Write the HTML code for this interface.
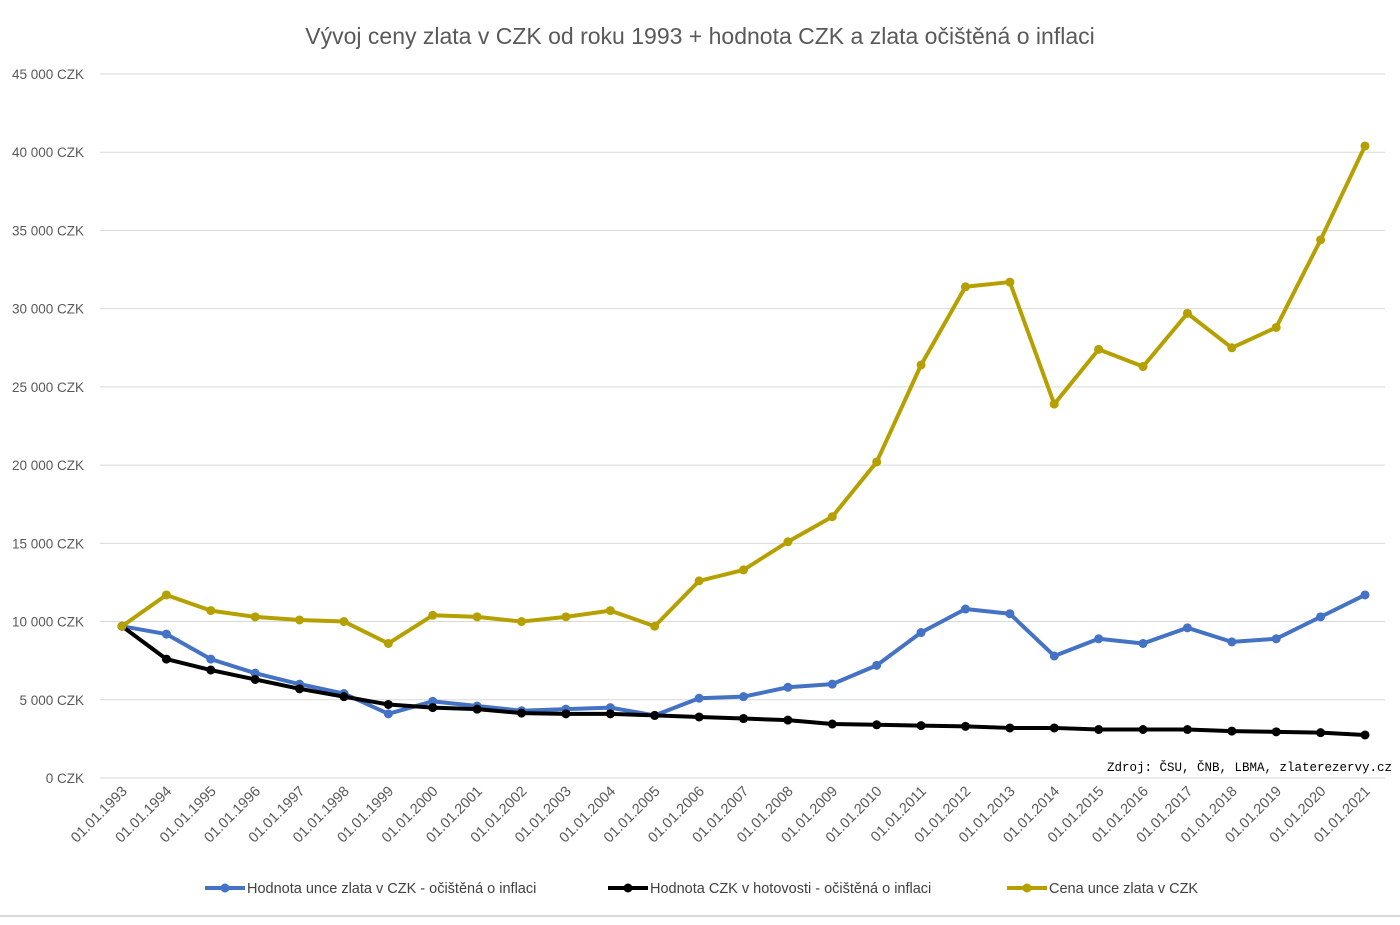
<!DOCTYPE html>
<html><head><meta charset="utf-8"><style>
body{margin:0;background:#fff;font-family:"Liberation Sans",sans-serif}
svg text{font-family:"Liberation Sans",sans-serif;fill:#595959}
</style></head><body>
<svg id="chart" width="1400" height="920" xmlns="http://www.w3.org/2000/svg">
<rect x="0" y="0" width="1400" height="920" fill="#fff"/>
<line x1="0" y1="916" x2="1400" y2="916" stroke="#d9d9d9" stroke-width="2"/>
<text x="700" y="44" text-anchor="middle" font-size="23">Vývoj ceny zlata v CZK od roku 1993 + hodnota CZK a zlata očištěná o inflaci</text>
<g id="grid"></g><g id="xlabels"></g><g id="series"></g>
<text x="1392" y="771" text-anchor="end" font-size="12.5" style="font-family:'Liberation Mono',monospace;fill:#000">Zdroj: ČSU, ČNB, LBMA, zlaterezervy.cz</text>
<g id="legend"></g>
</svg>
<script>
const years=[];for(let y=1993;y<=2021;y++)years.push(y);
const blueVals=[9700,9200,7600,6700,6000,5400,4100,4900,4600,4300,4400,4500,4000,5100,5200,5800,6000,7200,9300,10800,10500,7800,8900,8600,9600,8700,8900,10300,11700];
const blackVals=[9700,7600,6900,6300,5700,5200,4700,4500,4400,4150,4100,4100,4000,3900,3800,3700,3450,3400,3350,3300,3200,3200,3100,3100,3100,3000,2950,2900,2750];
const goldVals=[9700,11700,10700,10300,10100,10000,8600,10400,10300,10000,10300,10700,9700,12600,13300,15100,16700,20200,26400,31400,31700,23900,27400,26300,29700,27500,28800,34400,40400];
const yTicks=[0,5000,10000,15000,20000,25000,30000,35000,40000,45000];
const seriesNames=["Hodnota unce zlata v CZK - očištěná o inflaci","Hodnota CZK v hotovosti - očištěná o inflaci","Cena unce zlata v CZK"];
const NS="http://www.w3.org/2000/svg";
const X=i=>122+i*(1365-122)/28;
const Y=v=>778-v*(778-74)/45000;
function mk(t,a,p){const e=document.createElementNS(NS,t);for(const k in a)e.setAttribute(k,a[k]);p.appendChild(e);return e;}
const grid=document.getElementById('grid');
yTicks.forEach(v=>{
 const l=mk('line',{x1:100,x2:1385,y1:Y(v),y2:Y(v),stroke:'#d9d9d9','stroke-width':1},grid);
 
 
 const t=mk('text',{x:84,y:Y(v)+5,'text-anchor':'end','font-size':13.5},grid);
 t.textContent=v.toLocaleString('en').replace(/,/g,' ')+' CZK';
 
 
});
const xl=document.getElementById('xlabels');
years.forEach((y,i)=>{
 const t=mk('text',{x:X(i)+6,y:792,'text-anchor':'end','font-size':14.5,transform:`rotate(-45 ${X(i)+6} 792)`},xl);
 t.textContent='01.01.'+y;
 
 
});
const colors=['#4472c4','#000000','#b5a000'];
const ser=document.getElementById('series');
[blueVals,blackVals,goldVals].forEach((vals,s)=>{
 const g=mk('g',{},ser);
 
 
 const p=mk('polyline',{points:vals.map((v,i)=>X(i)+','+Y(v)).join(' '),fill:'none',stroke:colors[s],'stroke-width':4,'stroke-linejoin':'round'},g);
 
 
 vals.forEach((v,i)=>{
  const c=mk('circle',{cx:X(i),cy:Y(v),r:4.5,fill:colors[s]},g);
  
  
 });
});
const lg=document.getElementById('legend');
const lx=[205,608,1007];
seriesNames.forEach((n,s)=>{
 const g=mk('g',{},lg);
 
 
 mk('line',{x1:lx[s],x2:lx[s]+40,y1:888,y2:888,stroke:colors[s],'stroke-width':4},g);
 mk('circle',{cx:lx[s]+20,cy:888,r:4.5,fill:colors[s]},g);
 const t=mk('text',{x:lx[s]+42,y:893,'font-size':14.5,style:'fill:#404040'},g);
 t.textContent=n;
});
</script>
</body></html>
